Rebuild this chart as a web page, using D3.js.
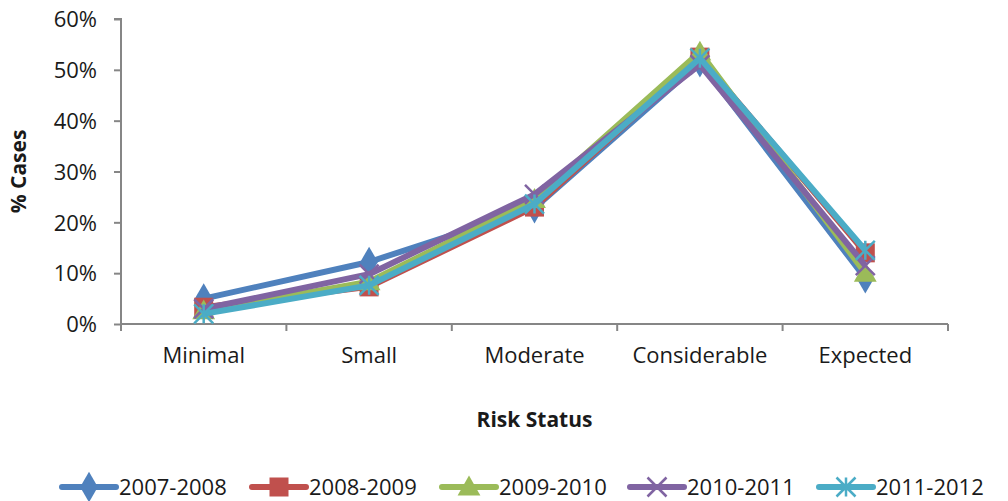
<!DOCTYPE html>
<html>
<head>
<meta charset="utf-8">
<script src="https://cdn.jsdelivr.net/npm/d3@7"></script>
<style>
  body { margin: 0; background: #fff; }
  text { font-family: "Open Sans", Lato, sans-serif; fill: #1a1a1a; }
</style>
</head>
<body>
<div id="chart"></div>
<script>
// categories and series values (% cases)
const categories = ["Minimal", "Small", "Moderate", "Considerable", "Expected"];
const seriesNames = ["2007-2008", "2008-2009", "2009-2010", "2010-2011", "2011-2012"];
const s2007 = [5.0, 12.2, 22.8, 51.5, 9.0];
const s2008 = [3.3, 7.3, 23.0, 52.5, 14.0];
const s2009 = [2.6, 8.3, 24.5, 53.5, 10.0];
const s2010 = [3.0, 9.8, 25.5, 51.0, 11.5];
const s2011 = [2.0, 7.6, 23.6, 52.3, 14.5];
const yTicks = [0, 10, 20, 30, 40, 50, 60];

const colors = ["#4F81BD", "#C0504D", "#9BBB59", "#8064A2", "#4BACC6"];
const shapes = ["diamond", "square", "triangle", "x", "asterisk"];
const allSeries = [s2007, s2008, s2009, s2010, s2011];

const W = 1008, H = 501;
const margin = { top: 19, right: 60, bottom: 177, left: 121 };
const width = W - margin.left - margin.right;
const height = H - margin.top - margin.bottom;

const svg = d3.select("#chart").append("svg")
    .attr("width", W)
    .attr("height", H);

const g = svg.append("g")
    .attr("transform", "translate(" + margin.left + "," + margin.top + ")");

const x = d3.scaleBand().domain(categories).range([0, width]);
const y = d3.scaleLinear().domain([0, 60]).range([height, 0]);

// axes
const axisColor = "#868686";
const yAxis = g.append("g")
    .call(d3.axisLeft(y).tickValues(yTicks).tickSize(7).tickFormat(d => d + "%"));
yAxis.selectAll("text").attr("font-size", 22).attr("dx", -14).attr("dy", "0.35em");

const xAxis = g.append("g")
    .attr("transform", "translate(0," + height + ")")
    .call(d3.axisBottom(x).tickSize(0).tickFormat(d => d));
xAxis.selectAll("text").attr("font-size", 22).attr("dy", "1.65em");
// tick marks at band boundaries
xAxis.selectAll(".bound")
    .data(d3.range(categories.length + 1))
  .enter().append("line")
    .attr("class", "bound")
    .attr("x1", i => i * x.bandwidth())
    .attr("x2", i => i * x.bandwidth())
    .attr("y1", 0)
    .attr("y2", 7);

svg.selectAll(".domain, .tick line, .bound")
    .attr("stroke", axisColor)
    .attr("stroke-width", 2);
yAxis.select(".domain").attr("d", "M-7,0H0V" + height);
xAxis.select(".domain").attr("d", "M0,0H" + width);

// axis titles
svg.append("text")
    .attr("transform", "translate(26," + (margin.top + height / 2) + ") rotate(-90)")
    .attr("text-anchor", "middle")
    .attr("font-size", 21)
    .attr("font-weight", "bold")
    .text("% Cases");

svg.append("text")
    .attr("x", margin.left + width / 2)
    .attr("y", 427)
    .attr("text-anchor", "middle")
    .attr("font-size", 21)
    .attr("font-weight", "bold")
    .text("Risk Status");

// marker drawing
function drawMarker(sel, shape, color, size) {
    const s = size;
    if (shape === "diamond") {
        sel.append("path").attr("d", d3.symbol(d3.symbolDiamond, s * s * 0.75)()).attr("fill", color);
    } else if (shape === "square") {
        sel.append("rect").attr("x", -s / 2).attr("y", -s / 2).attr("width", s).attr("height", s).attr("fill", color);
    } else if (shape === "triangle") {
        sel.append("path").attr("d", "M0," + (-s * 0.6) + "L" + (s * 0.6) + "," + (s * 0.45) + "L" + (-s * 0.6) + "," + (s * 0.45) + "Z").attr("fill", color);
    } else if (shape === "x") {
        const h = s / 2;
        sel.append("path").attr("d", "M" + -h + "," + -h + "L" + h + "," + h + "M" + h + "," + -h + "L" + -h + "," + h)
            .attr("stroke", color).attr("stroke-width", 2.5).attr("fill", "none");
    } else if (shape === "asterisk") {
        const h = s / 2;
        sel.append("path").attr("d", "M" + -h + "," + -h + "L" + h + "," + h + "M" + h + "," + -h + "L" + -h + "," + h + "M0," + -h + "L0," + h)
            .attr("stroke", color).attr("stroke-width", 2.5).attr("fill", "none");
    }
}

const line = d3.line()
    .x((d, i) => x(categories[i]) + x.bandwidth() / 2)
    .y(d => y(d));

allSeries.forEach((vals, k) => {
    g.append("path")
        .datum(vals)
        .attr("fill", "none")
        .attr("stroke", colors[k])
        .attr("stroke-width", 6)
        .attr("stroke-linejoin", "round")
        .attr("d", line);
    vals.forEach((v, i) => {
        const m = g.append("g")
            .attr("transform", "translate(" + (x(categories[i]) + x.bandwidth() / 2) + "," + y(v) + ")");
        drawMarker(m, shapes[k], colors[k], 19);
    });
});

// legend
const legendX = [62, 252, 442, 630, 819];
const legendY = 487;
seriesNames.forEach((name, k) => {
    const lg = svg.append("g").attr("transform", "translate(" + legendX[k] + "," + legendY + ")");
    lg.append("line")
        .attr("x1", 0).attr("x2", 54)
        .attr("stroke", colors[k])
        .attr("stroke-width", 6)
        .attr("stroke-linecap", "round");
    const m = lg.append("g").attr("transform", "translate(27,0)");
    drawMarker(m, shapes[k], colors[k], 19);
    lg.append("text")
        .attr("x", 57)
        .attr("dy", "0.35em")
        .attr("font-size", 22)
        .text(name);
});
</script>
</body>
</html>
